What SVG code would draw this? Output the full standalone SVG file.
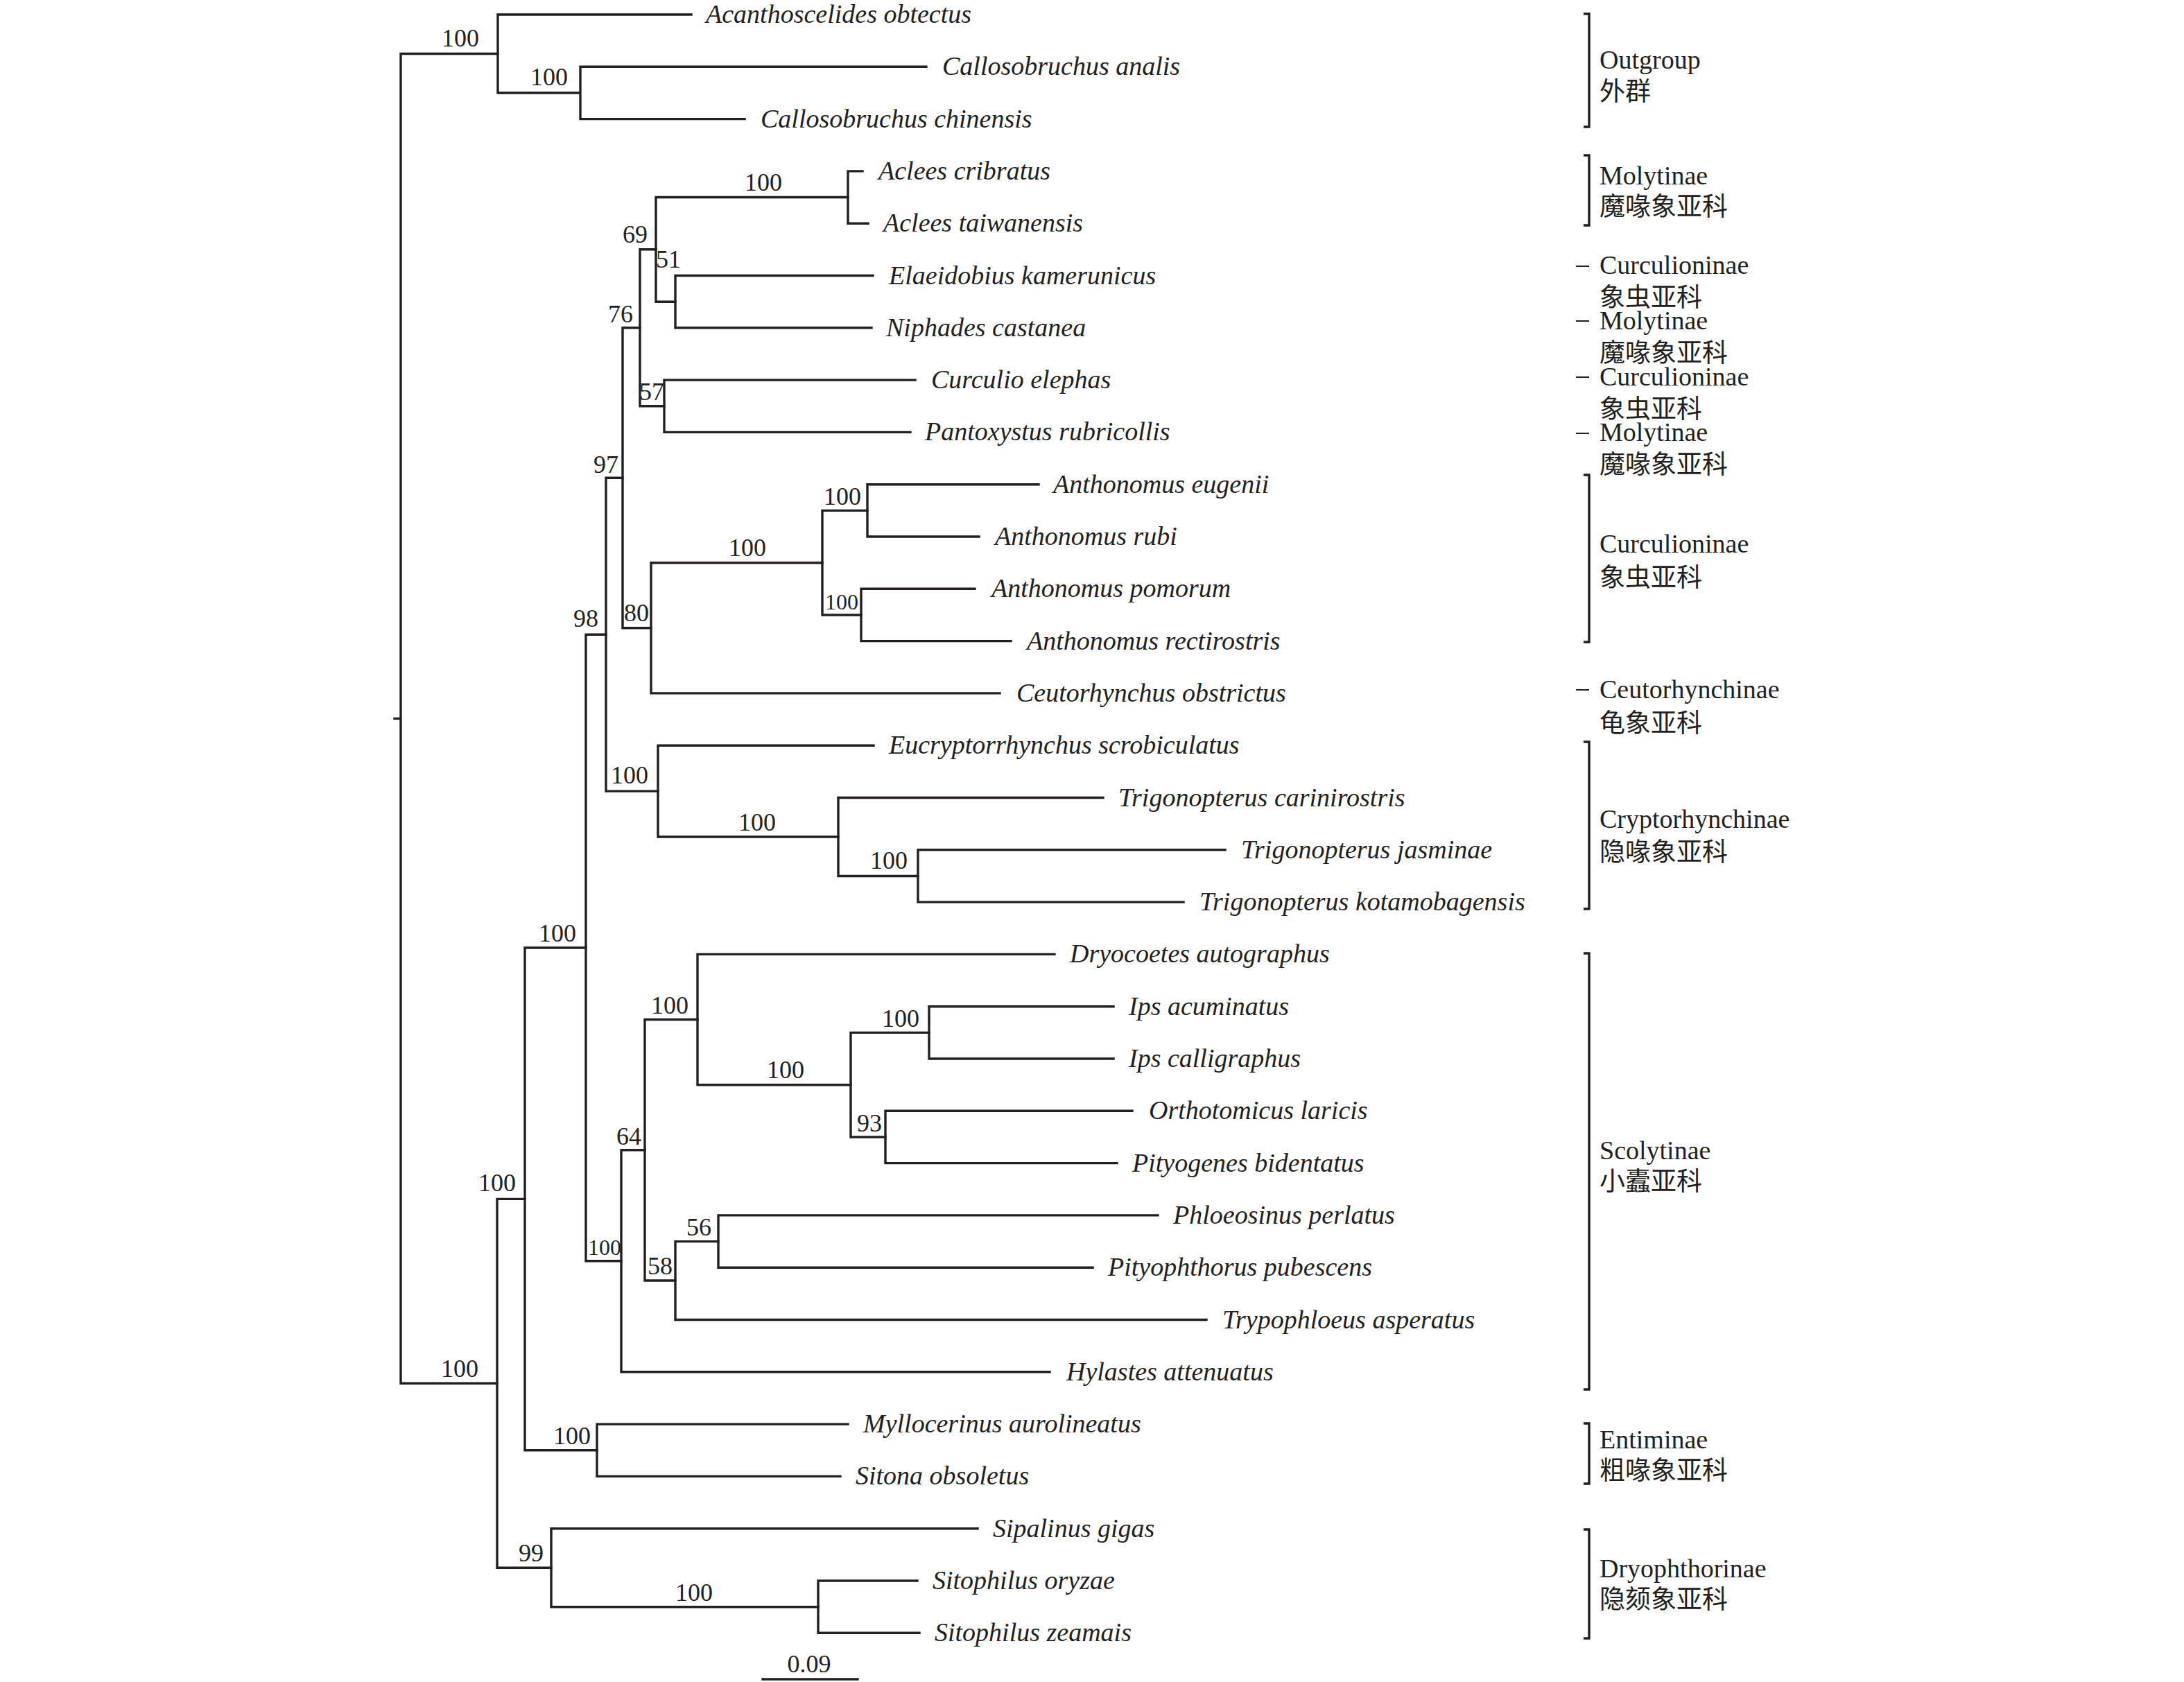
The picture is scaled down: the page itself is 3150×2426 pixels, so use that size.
<svg xmlns="http://www.w3.org/2000/svg" width="3150" height="2426" viewBox="0 0 3150 2426">
<style>
.br{fill:none;stroke:#231f20;stroke-width:3.4;stroke-linecap:square}
.bk{fill:none;stroke:#231f20;stroke-width:3.4}
.dash{fill:none;stroke:#231f20;stroke-width:2}
.leaf{font-family:"Liberation Serif","Times New Roman",serif;font-style:italic;font-size:38px;fill:#231f20}
.bs{font-family:"Liberation Serif","Times New Roman",serif;font-size:36px;fill:#231f20;text-anchor:end}
.bss{font-family:"Liberation Serif","Times New Roman",serif;font-size:32px;fill:#231f20;text-anchor:end}
.cl{font-family:"Liberation Serif","Times New Roman",serif;font-size:38px;fill:#231f20}
.cn{font-family:"Liberation Serif","Noto Sans CJK SC",serif;font-size:37px;fill:#231f20}
.sc{font-family:"Liberation Serif","Times New Roman",serif;font-size:36px;fill:#231f20;text-anchor:middle}
</style>
<rect width="3150" height="2426" fill="#ffffff"/>
<g id="connectors">
<path class="br" d="M569 1036.4H578M578 77.5V1995.3M578 77.5H718M578 1995.3H717"/>
<path class="br" d="M718 21V134M718 21H997M718 134H837M837 96.3V171.6M837 96.3H1336M837 171.6H1074"/>
<path class="br" d="M717 1729.4V2261.2M717 1729.4H757M717 2261.2H795"/>
<path class="br" d="M757 1367V2091.8M757 1367H845M757 2091.8H861"/>
<path class="br" d="M861 2054.1V2129.4M861 2054.1H1223M861 2129.4H1212"/>
<path class="br" d="M795 2204.7V2317.7M795 2204.7H1410M795 2317.7H1180"/>
<path class="br" d="M1180 2280V2355.3M1180 2280H1323M1180 2355.3H1326"/>
<path class="br" d="M845 915.2V1818.8M845 915.2H874M845 1818.8H896"/>
<path class="br" d="M874 689.3V1141.1M874 689.3H898M874 1141.1H949"/>
<path class="br" d="M898 472.8V905.8M898 472.8H923M898 905.8H939"/>
<path class="br" d="M923 359.8V585.8M923 359.8H946M923 585.8H958"/>
<path class="br" d="M946 284.5V435.2M946 284.5H1223M946 435.2H974"/>
<path class="br" d="M1223 246.9V322.2M1223 246.9H1244M1223 322.2H1252"/>
<path class="br" d="M974 397.5V472.8M974 397.5H1259M974 472.8H1257"/>
<path class="br" d="M958 548.1V623.4M958 548.1H1320M958 623.4H1313"/>
<path class="br" d="M939 811.7V999.9M939 811.7H1186M939 999.9H1442"/>
<path class="br" d="M1186 736.4V887M1186 736.4H1251M1186 887H1242"/>
<path class="br" d="M1251 698.7V774M1251 698.7H1498M1251 774H1412"/>
<path class="br" d="M1242 849.3V924.6M1242 849.3H1406M1242 924.6H1458"/>
<path class="br" d="M949 1075.2V1207M949 1075.2H1260M949 1207H1209"/>
<path class="br" d="M1209 1150.5V1263.5M1209 1150.5H1591M1209 1263.5H1324"/>
<path class="br" d="M1324 1225.8V1301.1M1324 1225.8H1767M1324 1301.1H1707"/>
<path class="br" d="M896 1658.8V1978.8M896 1658.8H930M896 1978.8H1514"/>
<path class="br" d="M930 1470.5V1847M930 1470.5H1006M930 1847H974"/>
<path class="br" d="M1006 1376.4V1564.7M1006 1376.4H1521M1006 1564.7H1227"/>
<path class="br" d="M1227 1489.4V1640M1227 1489.4H1340M1227 1640H1277"/>
<path class="br" d="M1340 1451.7V1527M1340 1451.7H1606M1340 1527H1606"/>
<path class="br" d="M1277 1602.3V1677.6M1277 1602.3H1633M1277 1677.6H1611"/>
<path class="br" d="M974 1790.6V1903.5M974 1790.6H1036M974 1903.5H1740"/>
<path class="br" d="M1036 1752.9V1828.2M1036 1752.9H1670M1036 1828.2H1576"/>
</g>
<g id="leaves">
<g id="t00"><text class="leaf" x="1018" y="33">Acanthoscelides obtectus</text></g>
<g id="t01"><text class="leaf" x="1359" y="108">Callosobruchus analis</text></g>
<g id="t02"><text class="leaf" x="1097" y="184">Callosobruchus chinensis</text></g>
<g id="t03"><text class="leaf" x="1267" y="259">Aclees cribratus</text></g>
<g id="t04"><text class="leaf" x="1274" y="334">Aclees taiwanensis</text></g>
<g id="t05"><text class="leaf" x="1282" y="410">Elaeidobius kamerunicus</text></g>
<g id="t06"><text class="leaf" x="1278" y="485">Niphades castanea</text></g>
<g id="t07"><text class="leaf" x="1343" y="560">Curculio elephas</text></g>
<g id="t08"><text class="leaf" x="1334" y="635">Pantoxystus rubricollis</text></g>
<g id="t09"><text class="leaf" x="1519" y="711">Anthonomus eugenii</text></g>
<g id="t10"><text class="leaf" x="1435" y="786">Anthonomus rubi</text></g>
<g id="t11"><text class="leaf" x="1430" y="861">Anthonomus pomorum</text></g>
<g id="t12"><text class="leaf" x="1481" y="937">Anthonomus rectirostris</text></g>
<g id="t13"><text class="leaf" x="1466" y="1012">Ceutorhynchus obstrictus</text></g>
<g id="t14"><text class="leaf" x="1282" y="1087">Eucryptorrhynchus scrobiculatus</text></g>
<g id="t15"><text class="leaf" x="1613" y="1163">Trigonopterus carinirostris</text></g>
<g id="t16"><text class="leaf" x="1790" y="1238">Trigonopterus jasminae</text></g>
<g id="t17"><text class="leaf" x="1730" y="1313">Trigonopterus kotamobagensis</text></g>
<g id="t18"><text class="leaf" x="1543" y="1388">Dryocoetes autographus</text></g>
<g id="t19"><text class="leaf" x="1628" y="1464">Ips acuminatus</text></g>
<g id="t20"><text class="leaf" x="1628" y="1539">Ips calligraphus</text></g>
<g id="t21"><text class="leaf" x="1657" y="1614">Orthotomicus laricis</text></g>
<g id="t22"><text class="leaf" x="1633" y="1690">Pityogenes bidentatus</text></g>
<g id="t23"><text class="leaf" x="1692" y="1765">Phloeosinus perlatus</text></g>
<g id="t24"><text class="leaf" x="1598" y="1840">Pityophthorus pubescens</text></g>
<g id="t25"><text class="leaf" x="1763" y="1916">Trypophloeus asperatus</text></g>
<g id="t26"><text class="leaf" x="1538" y="1991">Hylastes attenuatus</text></g>
<g id="t27"><text class="leaf" x="1245" y="2066">Myllocerinus aurolineatus</text></g>
<g id="t28"><text class="leaf" x="1234" y="2141">Sitona obsoletus</text></g>
<g id="t29"><text class="leaf" x="1432" y="2217">Sipalinus gigas</text></g>
<g id="t30"><text class="leaf" x="1345" y="2292">Sitophilus oryzae</text></g>
<g id="t31"><text class="leaf" x="1348" y="2367">Sitophilus zeamais</text></g>
</g>
<g id="supports">
<g id="s01"><text class="bs" x="691" y="67">100</text></g>
<g id="s02"><text class="bs" x="819" y="123">100</text></g>
<g id="s03"><text class="bs" x="1128" y="275">100</text></g>
<g id="s04"><text class="bs" x="934" y="350">69</text></g>
<g id="s05"><text class="bs" x="982" y="386">51</text></g>
<g id="s06"><text class="bs" x="913" y="465">76</text></g>
<g id="s07"><text class="bs" x="958" y="577">57</text></g>
<g id="s08"><text class="bs" x="892" y="682">97</text></g>
<g id="s09"><text class="bs" x="1242" y="728">100</text></g>
<g id="s10"><text class="bs" x="1105" y="802">100</text></g>
<g id="s11"><text class="bss" x="1238" y="879">100</text></g>
<g id="s12"><text class="bs" x="863" y="904">98</text></g>
<g id="s13"><text class="bs" x="936" y="896">80</text></g>
<g id="s14"><text class="bs" x="935" y="1130">100</text></g>
<g id="s15"><text class="bs" x="1119" y="1198">100</text></g>
<g id="s16"><text class="bs" x="1309" y="1253">100</text></g>
<g id="s17"><text class="bs" x="831" y="1358">100</text></g>
<g id="s18"><text class="bs" x="993" y="1462">100</text></g>
<g id="s19"><text class="bs" x="1326" y="1481">100</text></g>
<g id="s20"><text class="bs" x="1160" y="1555">100</text></g>
<g id="s21"><text class="bs" x="1272" y="1632">93</text></g>
<g id="s22"><text class="bs" x="925" y="1651">64</text></g>
<g id="s23"><text class="bs" x="744" y="1718">100</text></g>
<g id="s24"><text class="bs" x="1026" y="1782">56</text></g>
<g id="s25"><text class="bss" x="896" y="1810">100</text></g>
<g id="s26"><text class="bs" x="970" y="1838">58</text></g>
<g id="s27"><text class="bs" x="690" y="1986">100</text></g>
<g id="s28"><text class="bs" x="852" y="2083">100</text></g>
<g id="s29"><text class="bs" x="784" y="2252">99</text></g>
<g id="s30"><text class="bs" x="1028" y="2309">100</text></g>
</g>
<g id="clades">
<g id="c-outgroup"><path class="bk" d="M2284 20H2292V183H2284"/><text class="cl" x="2307" y="99">Outgroup</text><text class="cn" x="2307" y="145">外群</text></g>
<g id="c-molytinae1"><path class="bk" d="M2284 224H2292V325H2284"/><text class="cl" x="2307" y="266">Molytinae</text><text class="cn" x="2307" y="311">魔喙象亚科</text></g>
<g id="c-curc1"><path class="dash" d="M2273 384H2292"/><text class="cl" x="2307" y="395">Curculioninae</text><text class="cn" x="2307" y="442">象虫亚科</text></g>
<g id="c-moly2"><path class="dash" d="M2273 463H2292"/><text class="cl" x="2307" y="475">Molytinae</text><text class="cn" x="2307" y="522">魔喙象亚科</text></g>
<g id="c-curc2"><path class="dash" d="M2273 544H2292"/><text class="cl" x="2307" y="556">Curculioninae</text><text class="cn" x="2307" y="603">象虫亚科</text></g>
<g id="c-moly3"><path class="dash" d="M2273 625H2292"/><text class="cl" x="2307" y="636">Molytinae</text><text class="cn" x="2307" y="683">魔喙象亚科</text></g>
<g id="c-curc3"><path class="bk" d="M2284 685H2292V926H2284"/><text class="cl" x="2307" y="797">Curculioninae</text><text class="cn" x="2307" y="846">象虫亚科</text></g>
<g id="c-ceuto"><path class="dash" d="M2273 995H2292"/><text class="cl" x="2307" y="1007">Ceutorhynchinae</text><text class="cn" x="2307" y="1056">龟象亚科</text></g>
<g id="c-crypto"><path class="bk" d="M2284 1070H2292V1311H2284"/><text class="cl" x="2307" y="1194">Cryptorhynchinae</text><text class="cn" x="2307" y="1242">隐喙象亚科</text></g>
<g id="c-scoly"><path class="bk" d="M2284 1375H2292V2004H2284"/><text class="cl" x="2307" y="1672">Scolytinae</text><text class="cn" x="2307" y="1717">小蠹亚科</text></g>
<g id="c-entim"><path class="bk" d="M2284 2053H2292V2140H2284"/><text class="cl" x="2307" y="2089">Entiminae</text><text class="cn" x="2307" y="2134">粗喙象亚科</text></g>
<g id="c-dryo"><path class="bk" d="M2284 2206H2292V2363H2284"/><text class="cl" x="2307" y="2275">Dryophthorinae</text><text class="cn" x="2307" y="2320">隐颏象亚科</text></g>
</g>
<g id="scale">
<path class="br" d="M1100 2422H1237"/>
<text class="sc" x="1167" y="2412">0.09</text>
</g>
</svg>
